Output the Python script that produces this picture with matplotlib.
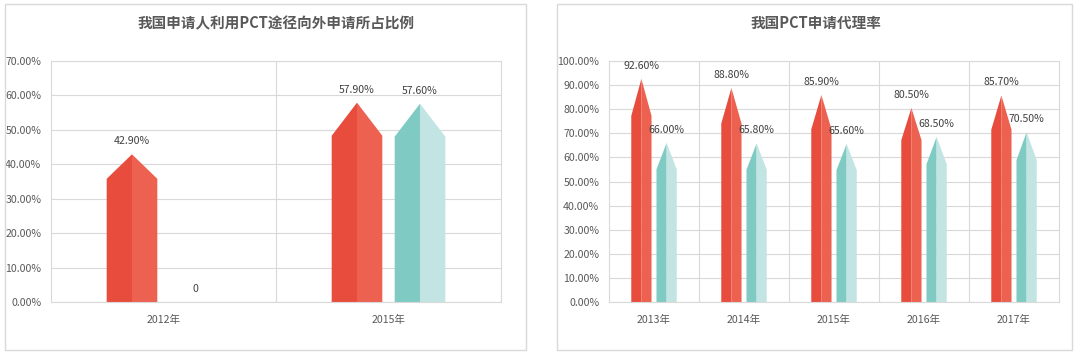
import matplotlib.pyplot as plt
from matplotlib.patches import Rectangle

plt.rcParams['font.family'] = ['Noto Sans CJK SC', 'DejaVu Sans']

# data
left_title = '我国申请人利用PCT途径向外申请所占比例'
left_years = ['2012年', '2015年']
left_red = [42.9, 57.9]
left_teal = [0.0, 57.6]
left_ticks = [0, 10, 20, 30, 40, 50, 60, 70]

right_title = '我国PCT申请代理率'
right_years = ['2013年', '2014年', '2015年', '2016年', '2017年']
right_red = [92.6, 88.8, 85.9, 80.5, 85.7]
right_teal = [66.0, 65.8, 65.6, 68.5, 70.5]
right_ticks = [0, 10, 20, 30, 40, 50, 60, 70, 80, 90, 100]

RED = ('#E84C3D', '#EC6150')
TEAL = ('#7FCBC4', '#C2E4E2')
GRID = '#D9D9D9'
TXT = '#595959'
W = 1081
H = 355


def label_text(v):
    if v == 0:
        return '0'
    return f'{v:.2f}%'


def arrow_bar(ax, xc, v, width, colors):
    # body up to ~83% of value, then a pointed head
    x0 = xc - width / 2
    x1 = xc + width / 2
    s = v * 0.834
    if v > 0:
        ax.fill([x0, x0, xc, xc], [0, s, v, 0], color=colors[0], lw=0)
        ax.fill([xc, xc, x1, x1], [0, v, s, 0], color=colors[1], lw=0)
    ax.annotate(label_text(v), (xc, v), xytext=(0, 13), textcoords='offset pixels',
                ha='center', va='center', fontsize=7.6, color='#404040')


def draw_panel(fig, rect, years, red, teal, ticks):
    ax = fig.add_axes(rect)
    n = len(years)
    width = 0.225
    off = 0.14
    for i in range(n):
        arrow_bar(ax, i - off, red[i], width, RED)
        arrow_bar(ax, i + off, teal[i], width, TEAL)
    ax.set_xlim(-0.5, n - 0.5)
    ax.set_ylim(ticks[0], ticks[-1])
    ax.set_yticks(ticks)
    ax.set_yticklabels([f'{t:.2f}%' for t in ticks])
    ax.set_xticks(range(n))
    ax.set_xticklabels(years)
    ax.tick_params(length=0, labelsize=7.6, colors=TXT)
    ax.tick_params(axis='y', pad=7)
    ax.tick_params(axis='x', pad=9)
    ax.yaxis.grid(True, color=GRID, lw=0.8)
    for b in range(n - 1):
        ax.axvline(b + 0.5, color=GRID, lw=0.8)
    ax.set_axisbelow(True)
    for sp in ax.spines.values():
        sp.set_color(GRID)
        sp.set_linewidth(0.8)
    return ax


fig = plt.figure(figsize=(W / 100, H / 100), dpi=100)

# panel frames
for x0, x1 in [(5, 526), (557, 1072)]:
    fig.patches.append(Rectangle((x0 / W, 1 - 350 / H), (x1 - x0) / W, 346 / H,
                                 transform=fig.transFigure, fill=False,
                                 edgecolor=GRID, lw=1))

draw_panel(fig, [51 / W, 1 - 302 / H, 450 / W, 241 / H],
           left_years, left_red, left_teal, left_ticks)
draw_panel(fig, [609 / W, 1 - 302 / H, 450 / W, 241 / H],
           right_years, right_red, right_teal, right_ticks)

fig.text(276 / W, 1 - 23 / H, left_title, ha='center', va='center',
         fontsize=10.5, fontweight='bold', color=TXT)
fig.text(816 / W, 1 - 23 / H, right_title, ha='center', va='center',
         fontsize=10.5, fontweight='bold', color=TXT)

fig.savefig('out.png', dpi=100)
